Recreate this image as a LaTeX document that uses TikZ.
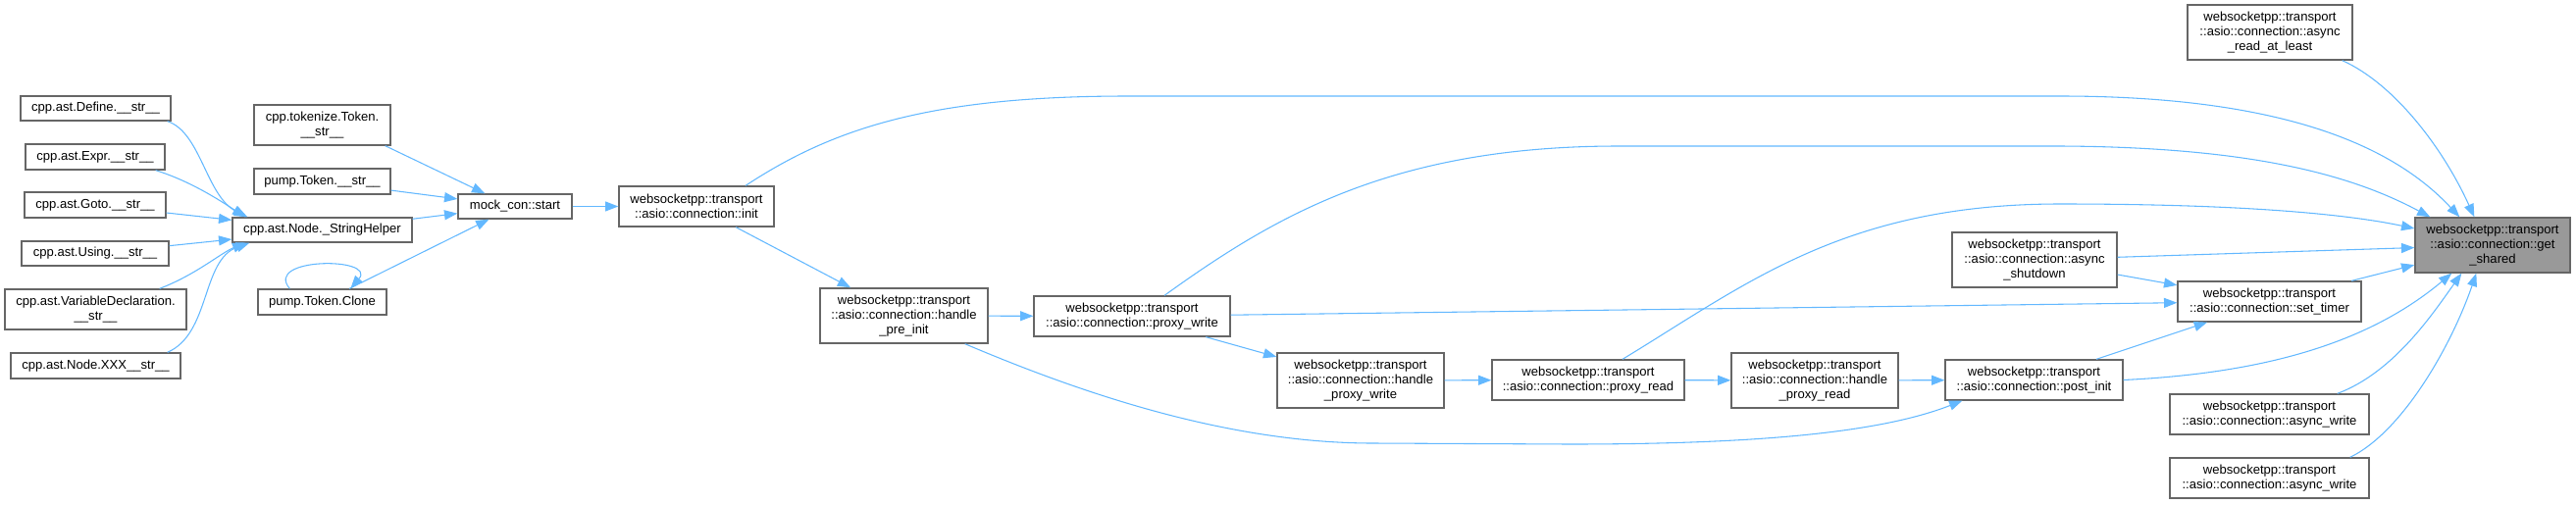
\documentclass[tikz,border=0pt]{standalone}
\usepackage{fontspec}
\setmainfont{Liberation Sans}
\usetikzlibrary{arrows.meta,calc}
\definecolor{edgeblue}{HTML}{63B8FF}
\definecolor{boxgray}{HTML}{666666}
\definecolor{selgray}{HTML}{999999}
\begin{document}
\begin{tikzpicture} [
    x=0.75pt, y=-0.75pt,
    arr/.style={draw=edgeblue, line width=0.8pt, -{Stealth[inset=0pt,length=10pt,width=7.5pt,fill=edgeblue]}},
    nd/.style={draw=boxgray, line width=1pt, fill=white, align=center, inner sep=0pt, font=\fontsize{9.8pt}{11.3pt}\selectfont},
    sz/.style 2 args={minimum width=#1*0.75pt, minimum height=#2*0.75pt},
    sel/.style={fill=selgray}
  ]
  \useasboundingbox (0,0) rectangle (2626,514);
  \node[nd, sz={153}{25}] (def) at (97.5,110.5) {cpp.ast.Define.\_\_str\_\_};
  \node[nd, sz={142}{26}] (expr) at (97,160) {cpp.ast.Expr.\_\_str\_\_};
  \node[nd, sz={144}{26}] (goto) at (97,209) {cpp.ast.Goto.\_\_str\_\_};
  \node[nd, sz={150}{25}] (using) at (97,258.5) {cpp.ast.Using.\_\_str\_\_};
  \node[nd, sz={185}{41}] (vardecl) at (97.5,315.5) {cpp.ast.VariableDeclaration.\\\_\_str\_\_};
  \node[nd, sz={173}{26}] (xxx) at (97.5,373) {cpp.ast.Node.XXX\_\_str\_\_};
  \node[nd, sz={183}{25}] (strhelp) at (328.5,234.5) {cpp.ast.Node.\_StringHelper};
  \node[nd, sz={139}{41}] (tokstr) at (328.5,127.5) {cpp.tokenize.Token.\\\_\_str\_\_};
  \node[nd, sz={139}{26}] (pumpstr) at (328.5,185) {pump.Token.\_\_str\_\_};
  \node[nd, sz={131}{26}] (clone) at (328.5,308) {pump.Token.Clone};
  \node[nd, sz={116}{25}] (start) at (525,210.5) {mock\_con::start};
  \node[nd, sz={158}{41}] (init) at (710,210.5) {websocketpp::transport\\::asio::connection::init};
  \node[nd, sz={171}{56}] (preinit) at (921.5,322) {websocketpp::transport\\::asio::connection::handle\\\_pre\_init};
  \node[nd, sz={200}{41}] (pwrite) at (1154,322.5) {websocketpp::transport\\::asio::connection::proxy\_write};
  \node[nd, sz={170}{56}] (hpwrite) at (1387,388) {websocketpp::transport\\::asio::connection::handle\\\_proxy\_write};
  \node[nd, sz={196}{41}] (pread) at (1619,387.5) {websocketpp::transport\\::asio::connection::proxy\_read};
  \node[nd, sz={170}{56}] (hpread) at (1850,388) {websocketpp::transport\\::asio::connection::handle\\\_proxy\_read};
  \node[nd, sz={181}{41}] (postinit) at (2073.5,387.5) {websocketpp::transport\\::asio::connection::post\_init};
  \node[nd, sz={168}{56}] (ashut) at (2074,265) {websocketpp::transport\\::asio::connection::async\\\_shutdown};
  \node[nd, sz={187}{41}] (settimer) at (2313.5,307.5) {websocketpp::transport\\::asio::connection::set\_timer};
  \node[nd, sz={168}{56}] (readleast) at (2314,33) {websocketpp::transport\\::asio::connection::async\\\_read\_at\_least};
  \node[nd, sel, sz={158}{56}] (getsh) at (2541,250) {websocketpp::transport\\::asio::connection::get\\\_shared};
  \node[nd, sz={203}{41}] (awrite1) at (2313.5,422.5) {websocketpp::transport\\::asio::connection::async\_write};
  \node[nd, sz={203}{41}] (awrite2) at (2313.5,487.5) {websocketpp::transport\\::asio::connection::async\_write};

  \draw[arr] ($(def.south east)+(-4,0)$) .. controls (205,135) and (210,200) .. ($(strhelp.north west)+(16,0)$);
  \draw[arr] ($(expr.south east)+(-10,0)$) .. controls (195,185) and (225,205) .. ($(strhelp.north west)+(14,0)$);
  \draw[arr] (goto) -- (strhelp);
  \draw[arr] (using) -- (strhelp);
  \draw[arr] ($(vardecl.north east)+(-28,0)$) .. controls (200,280) and (225,258) .. ($(strhelp.south west)+(14,0)$);
  \draw[arr] ($(xxx.north east)+(-14,0)$) .. controls (215,340) and (205,265) .. ($(strhelp.south west)+(18,0)$);
  \draw[arr] ($(tokstr.south east)+(-6,0)$) -- ($(start.north west)+(28,0)$);
  \draw[arr] (pumpstr) -- (start);
  \draw[arr] (strhelp) -- (start);
  \draw[arr] (clone) -- (start);
  \draw[arr] ($(clone.north west)+(33,0)$) .. controls (268,262) and (385,262) .. ($(clone.north west)+(95,0)$);
  \draw[arr] (start) -- (init);
  \draw[arr] (init) -- (preinit);
  \draw[arr] (preinit) -- (pwrite);
  \draw[arr] (pwrite) -- (hpwrite);
  \draw[arr] (hpwrite) -- (pread);
  \draw[arr] (pread) -- (hpread);
  \draw[arr] (hpread) -- (postinit);
  \draw[arr] ($(preinit.south east)+(-24,0)$) .. controls (1100,400) and (1250,452) .. (1400,452) -- (1600,453) .. controls (1800,453) and (1920,440) .. ($(postinit.south west)+(18,0)$);
  \draw[arr] (pwrite) -- (settimer);
  \draw[arr] (ashut) -- (settimer);
  \draw[arr] (postinit) -- (settimer);
  \draw[arr] (settimer) -- (getsh);
  \draw[arr] (ashut) -- (getsh);
  \draw[arr] ($(init.north)+(50,0)$) .. controls (850,130) and (950,98) .. (1150,98) -- (2100,98) .. controls (2350,98) and (2450,160) .. ($(getsh.north west)+(46,0)$);
  \draw[arr] ($(pwrite.north)+(33,0)$) .. controls (1300,220) and (1420,149) .. (1650,149) -- (2100,149) .. controls (2300,150) and (2400,180) .. ($(getsh.north west)+(16,0)$);
  \draw[arr] ($(pread.north)+(35,0)$) .. controls (1780,290) and (1880,208) .. (2100,208) .. controls (2300,208) and (2400,220) .. ($(getsh.west)+(0,-17)$);
  \draw[arr] ($(readleast.south east)+(-11,0)$) .. controls (2440,85) and (2490,150) .. ($(getsh.north west)+(61,0)$);
  \draw[arr] (postinit.east) .. controls (2320,380) and (2420,345) .. ($(getsh.south west)+(38,0)$);
  \draw[arr] ($(awrite1.north east)+(-33,0)$) .. controls (2440,380) and (2480,320) .. ($(getsh.south west)+(48,0)$);
  \draw[arr] ($(awrite2.north east)+(-20,0)$) .. controls (2450,440) and (2500,350) .. ($(getsh.south west)+(63,0)$);
\end{tikzpicture}
\end{document}
